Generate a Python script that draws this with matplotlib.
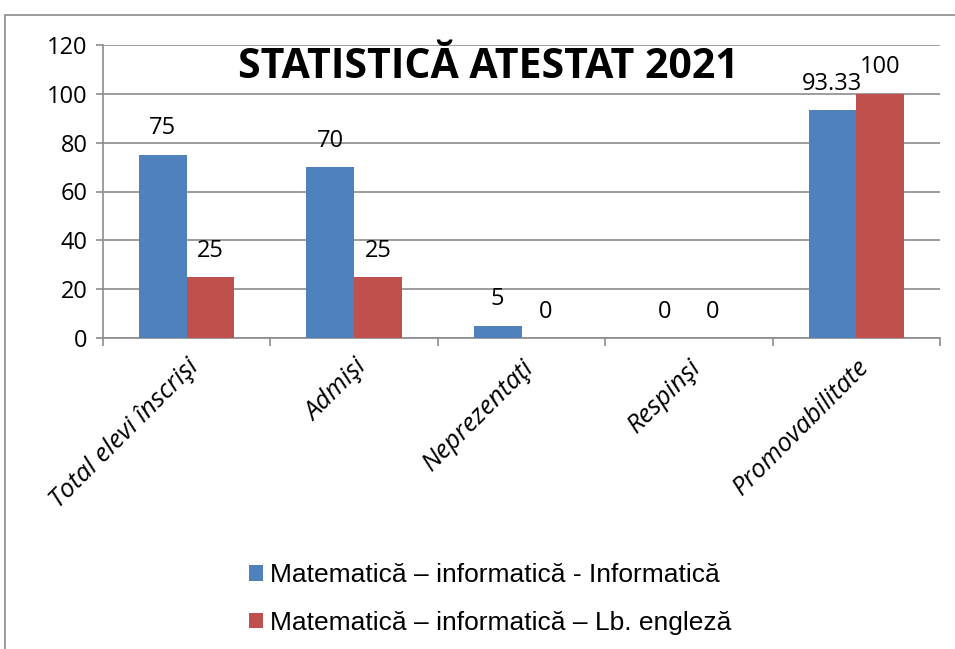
import numpy as np
import matplotlib
matplotlib.use("Agg")
import matplotlib.pyplot as plt
from matplotlib import font_manager
from matplotlib.patches import Rectangle

categories = ["Total elevi înscrişi", "Admişi", "Neprezentaţi", "Respinşi", "Promovabilitate"]
informatica = [75, 70, 5, 0, 93.33]
engleza = [25, 25, 0, 0, 100]
labels_info = ["75", "70", "5", "0", "93.33"]
labels_eng = ["25", "25", "0", "0", "100"]
series_names = ["Matematică – informatică - Informatică",
                "Matematică – informatică – Lb. engleză"]
colors = ["#4F81BD", "#C0504D"]


def pick_font(names):
    have = {f.name for f in font_manager.fontManager.ttflist}
    for n in names:
        if n in have:
            return n
    return "DejaVu Sans"


narrow = pick_font(["Liberation Sans Narrow", "Open Sans", "Roboto"])
arial = pick_font(["Liberation Sans", "Arimo", "DejaVu Sans"])


def main():
    fig = plt.figure(figsize=(9.55, 6.49), dpi=100)
    W, H = 955, 649

    # chart border
    fig.patches.append(Rectangle((5 / W, -0.05), 1.2, 1 - 15 / H + 0.05,
                                 transform=fig.transFigure, fill=False,
                                 edgecolor="#8C8C8C", linewidth=1.2))

    ax = fig.add_axes([103 / W, 1 - 338 / H, (940 - 103) / W, (338 - 45) / H])
    x = np.arange(len(categories))
    w = 0.285
    b1 = ax.bar(x - w / 2, informatica, w, color=colors[0], label=series_names[0], zorder=3)
    b2 = ax.bar(x + w / 2, engleza, w, color=colors[1], label=series_names[1], zorder=3)

    for bars, labs in ((b1, labels_info), (b2, labels_eng)):
        for r, t in zip(bars, labs):
            ax.annotate(t, (r.get_x() + r.get_width() / 2, r.get_height()),
                        xytext=(0, 19), textcoords="offset points",
                        ha="center", va="center", fontsize=17, family=narrow)

    ax.set_xlim(-0.5, len(categories) - 0.5)
    ax.set_ylim(0, 120)
    ax.set_yticks(np.arange(0, 121, 20))
    ax.yaxis.grid(True, color="#8C8C8C", linewidth=1.2, zorder=0)
    ax.set_axisbelow(True)
    for s in ("top", "right"):
        ax.spines[s].set_visible(False)
    for s in ("left", "bottom"):
        ax.spines[s].set_color("#8C8C8C")
        ax.spines[s].set_linewidth(1.2)

    ax.set_xticks(np.arange(-0.5, len(categories), 1.0))
    ax.set_xticklabels([])
    ax.set_xticks(x, minor=True)
    ax.set_xticklabels(categories, minor=True, rotation=45, ha="right",
                       rotation_mode="anchor", fontsize=18.5, family=narrow,
                       style="italic")
    ax.tick_params(axis="x", which="minor", length=0, pad=12)
    ax.tick_params(axis="x", which="major", length=6, color="#8C8C8C", width=1.2)
    ax.tick_params(axis="y", length=5, color="#8C8C8C", width=1.2, pad=6)
    for lab in ax.get_yticklabels():
        lab.set_fontsize(17)
        lab.set_family(narrow)

    fig.text(488 / W, 1 - 68 / H, "STATISTICĂ ATESTAT 2021", ha="center", va="center",
             fontsize=29.5, fontweight="bold", family=narrow)

    fig.legend(handles=[b1, b2], labels=series_names, loc="center",
               bbox_to_anchor=(490 / W, 1 - 599 / H), frameon=False,
               prop={"family": arial, "size": 19}, handlelength=0.55,
               handleheight=0.55, handletextpad=0.25, labelspacing=0.9)

    fig.savefig("out.png", dpi=100)


if __name__ == "__main__":
    main()
